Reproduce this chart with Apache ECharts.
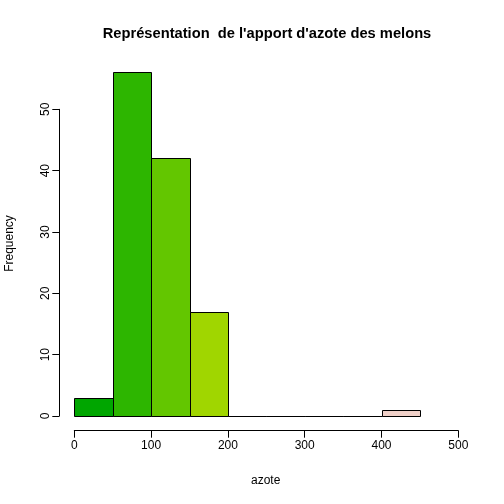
<!DOCTYPE html>
<html>
<head>
<meta charset="utf-8">
<script src="https://cdn.jsdelivr.net/npm/echarts@6/dist/echarts.min.js"></script>
<style>
  html, body { margin: 0; padding: 0; background: #fff; }
  #main { width: 504px; height: 504px; }
</style>
</head>
<body>
<div id="main"></div>
<script>
// histogramme : bornes des classes et effectifs
const breaks = [0, 50, 100, 150, 200, 250, 300, 350, 400, 450]
const counts = [3, 56, 42, 17, 0, 0, 0, 0, 1]
const barColors = ["#00A600", "#2DB600", "#63C600", "#A0D600", "#E6E600", "#E8C32E", "#EBB25E", "#EDB48E", "#F0D0C8"]
const xTicks = [0, 100, 200, 300, 400, 500]
const yTicks = [0, 10, 20, 30, 40, 50]

const font = "Liberation Sans, Arial, sans-serif"
const myChart = echarts.init(document.getElementById("main"), null, { renderer: "canvas" })

const bins = counts.map((c, i) => [breaks[i], breaks[i + 1], c, i])

myChart.setOption({
  animation: false,
  backgroundColor: "#ffffff",
  title: {
    text: "Représentation  de l'apport d'azote des melons",
    left: 262,
    top: 21,
    textAlign: "center",
    textStyle: { fontFamily: font, fontSize: 14.7, fontWeight: "bold", color: "#000" }
  },
  grid: { left: 74.3, right: 45.7, top: 109.3, bottom: 88 },
  xAxis: {
    type: "value",
    min: 0,
    max: 500,
    interval: 100,
    offset: 14.7,
    splitLine: { show: false },
    axisLine: { show: true, onZero: false, lineStyle: { color: "#000", width: 1 } },
    axisTick: { show: true, length: 7, lineStyle: { color: "#000" } },
    axisLabel: {
      margin: 9,
      color: "#000",
      fontFamily: font,
      fontSize: 12,
      customValues: xTicks
    }
  },
  yAxis: {
    type: "value",
    min: 0,
    max: 50,
    interval: 10,
    offset: 15,
    splitLine: { show: false },
    axisLine: { show: true, onZero: false, lineStyle: { color: "#000", width: 1 } },
    axisTick: { show: true, length: 7, lineStyle: { color: "#000" } },
    axisLabel: {
      margin: 8,
      rotate: 90,
      color: "#000",
      fontFamily: font,
      fontSize: 12,
      customValues: yTicks
    }
  },
  graphic: [
    {
      type: "text",
      left: 266 - 15,
      top: 475,
      style: { text: "azote", fontFamily: font, fontSize: 12, fill: "#000" }
    },
    {
      type: "text",
      x: 4,
      y: 243.5,
      rotation: Math.PI / 2,
      style: {
        text: "Frequency",
        fontFamily: font,
        fontSize: 12,
        fill: "#000",
        align: "center",
        verticalAlign: "top"
      }
    }
  ],
  series: [
    {
      type: "custom",
      clip: false,
      data: bins,
      renderItem: (params, api) => {
        const p0 = api.coord([api.value(0), 0])
        const p1 = api.coord([api.value(1), api.value(2)])
        const idx = api.value(3)
        return {
          type: "rect",
          shape: {
            x: Math.round(p0[0]) + 0.5,
            y: Math.round(p1[1]) + 0.5,
            width: Math.round(p1[0]) - Math.round(p0[0]),
            height: Math.round(p0[1]) - Math.round(p1[1])
          },
          style: { fill: barColors[idx], stroke: "#000", lineWidth: 1 }
        }
      }
    }
  ]
})
</script>
</body>
</html>
